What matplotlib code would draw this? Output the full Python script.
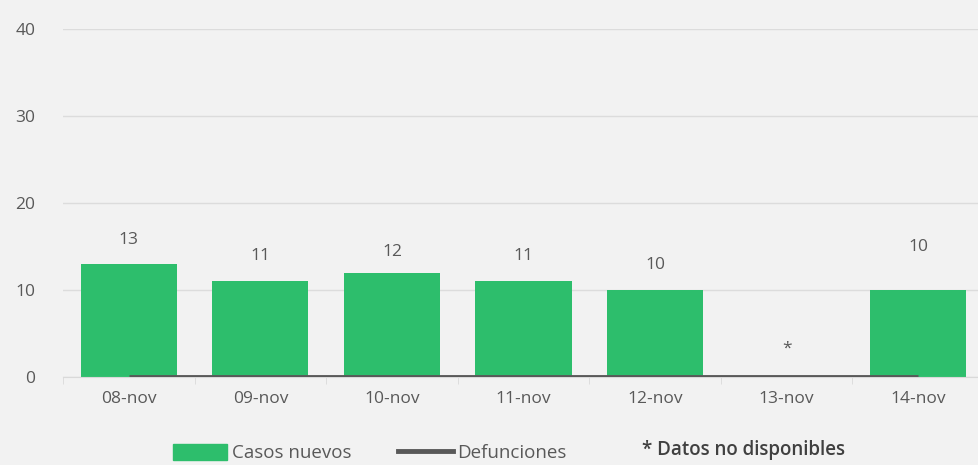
import numpy as np
import matplotlib.pyplot as plt
from matplotlib.patches import Patch
from matplotlib.lines import Line2D

fechas = ["08-nov", "09-nov", "10-nov", "11-nov", "12-nov", "13-nov", "14-nov"]
casos = [13, 11, 12, 11, 10, np.nan, 10]
defunciones = [0, 0, 0, 0, 0, 0, 0]
etiquetas = ["13", "11", "12", "11", "10", "*", "10"]
etiqueta_y = [15.8, 13.9, 14.4, 13.9, 12.9, 3.3, 14.9]

bg = "#f2f2f2"
verde = "#2dbe6c"
gris = "#595959"

plt.rcParams['font.family'] = ['Open Sans', 'DejaVu Sans']

fig = plt.figure(figsize=(9.79, 4.65), dpi=100, facecolor=bg)
ax = fig.add_axes([63 / 979, 88 / 465, 921 / 979, 348 / 465], facecolor=bg)

x = np.arange(len(fechas))
ax.bar(x, casos, width=0.73, color=verde, zorder=2)
ax.plot(x, defunciones, color=gris, lw=3.5, zorder=3, solid_capstyle='butt')

for i, t in enumerate(etiquetas):
    ax.text(x[i], etiqueta_y[i], t, ha='center', va='center',
            fontsize=12.5, color=gris)

ax.set_ylim(0, 40)
ax.set_yticks([0, 10, 20, 30, 40])
ax.set_xlim(-0.5, 6.5)
ax.set_xticks(x)
ax.set_xticklabels(fechas)
ax.set_xticks(np.arange(-0.5, 7, 1), minor=True)
ax.tick_params(axis='x', which='major', length=0, pad=10, labelsize=12.5,
               labelcolor=gris)
ax.tick_params(axis='x', which='minor', length=5, color="#d9d9d9")
ax.tick_params(axis='y', length=0, pad=20, labelsize=12.5, labelcolor=gris)
ax.grid(axis='y', color="#dcdcdc", lw=1, zorder=0)
ax.set_axisbelow(True)
for s in ['top', 'right', 'left']:
    ax.spines[s].set_visible(False)
ax.spines['bottom'].set_color("#d9d9d9")

handles = [Patch(color=verde), Line2D([], [], color=gris, lw=3.5)]
fig.legend(handles, ["Casos nuevos", "Defunciones"], loc='center left',
           bbox_to_anchor=(173 / 979, 1 - 453 / 465), ncol=2, frameon=False,
           fontsize=13.5, handlelength=2.9, handleheight=1.0,
           columnspacing=2.5, handletextpad=0.25, labelcolor=gris,
           borderpad=0, borderaxespad=0)
fig.text(642 / 979, 1 - 450 / 465, "* Datos no disponibles", fontsize=13.5,
         color="#404040", ha='left', va='center', fontweight='semibold')

fig.savefig("out.png", dpi=100, facecolor=bg)
